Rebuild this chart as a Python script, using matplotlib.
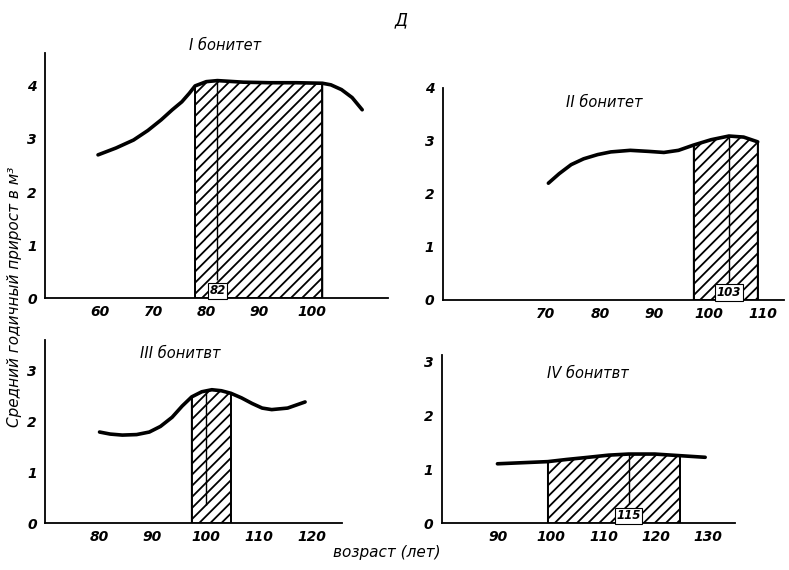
import matplotlib
matplotlib.use("Agg")
import matplotlib.pyplot as plt
import numpy as np

plt.rcParams['font.family'] = 'DejaVu Sans'
plt.rcParams['hatch.linewidth'] = 1.3

# I бонитет
age_1 = [59.6, 63.0, 66.3, 69.0, 71.5, 73.6, 75.4, 76.8, 77.9, 80.0, 82.1,
         87.0, 92.0, 97.0, 101.9, 103.5, 105.5, 107.5, 109.4]
val_1 = [2.70, 2.83, 2.98, 3.16, 3.36, 3.55, 3.70, 3.86, 4.00, 4.08, 4.10,
         4.07, 4.06, 4.06, 4.05, 4.02, 3.93, 3.78, 3.55]
zone_1 = (77.9, 101.9)
mark_1 = 82.1
mark_label_1 = "82"

# II бонитет
age_2 = [70.5, 72.5, 74.7, 77.0, 79.6, 82.0, 85.6, 89.0, 91.8, 94.5, 97.3,
         100.5, 103.8, 106.5, 109.1]
val_2 = [2.20, 2.38, 2.55, 2.66, 2.74, 2.79, 2.82, 2.80, 2.78, 2.82, 2.92,
         3.02, 3.09, 3.07, 2.98]
zone_2 = (97.3, 109.1)
mark_2 = 103.8
mark_label_2 = "103"

# III бонитет
age_3 = [80.0, 82.0, 84.3, 87.0, 89.4, 91.5, 93.7, 95.6, 97.4, 99.3, 101.2,
         103.0, 104.8, 106.8, 108.8, 110.7, 112.5, 115.5, 118.8]
val_3 = [1.79, 1.75, 1.73, 1.74, 1.79, 1.90, 2.08, 2.30, 2.48, 2.58, 2.62,
         2.60, 2.55, 2.46, 2.35, 2.26, 2.23, 2.26, 2.38]
zone_3 = (97.4, 104.8)
mark_3 = 100.1
mark_label_3 = ""

# IV бонитет
age_4 = [89.8, 99.4, 103.0, 107.1, 111.0, 114.8, 119.8, 124.6, 129.4]
val_4 = [1.10, 1.14, 1.18, 1.22, 1.26, 1.28, 1.28, 1.25, 1.22]
zone_4 = (99.4, 124.6)
mark_4 = 114.8
mark_label_4 = "115"

titles = ["I бонитет", "II бонитет", "III бонитвт", "IV бонитвт"]

fig = plt.figure(figsize=(7.89, 5.70), dpi=100)

panels = [
    # rect, xlim, ylim, xticks, yticks, title pos (axes coords)
    ([0.057, 0.477, 0.435, 0.430], (49.6, 114.3), (0, 4.62), [60, 70, 80, 90, 100], [0, 1, 2, 3, 4], (0.42, 1.03)),
    ([0.561, 0.474, 0.433, 0.372], (51.0, 114.0), (0, 3.95), [70, 80, 90, 100, 110], [0, 1, 2, 3, 4], (0.36, 0.93)),
    ([0.057, 0.082, 0.376, 0.321], (69.7, 125.7), (0, 3.59), [80, 90, 100, 110, 120], [0, 1, 2, 3], (0.32, 0.93)),
    ([0.560, 0.082, 0.371, 0.295], (79.2, 135.0), (0, 3.11), [90, 100, 110, 120, 130], [0, 1, 2, 3], (0.36, 0.89)),
]
data = [
    (age_1, val_1, zone_1, mark_1, mark_label_1),
    (age_2, val_2, zone_2, mark_2, mark_label_2),
    (age_3, val_3, zone_3, mark_3, mark_label_3),
    (age_4, val_4, zone_4, mark_4, mark_label_4),
]

for (rect, xlim, ylim, xt, yt, tpos), (ages, vals, zone, mark, mlabel), title in zip(panels, data, titles):
    ax = fig.add_axes(rect)
    ages = np.array(ages)
    vals = np.array(vals)
    inside = (ages >= zone[0] - 1e-6) & (ages <= zone[1] + 1e-6)
    ax.fill_between(ages, 0, vals, where=inside, facecolor='none',
                    edgecolor='black', hatch='///', linewidth=1.2)
    ax.vlines([zone[0], zone[1]], 0, [vals[inside][0], vals[inside][-1]],
              color='black', lw=1.3)
    top = np.interp(mark, ages, vals)
    ax.vlines(mark, 0.35, top, color='black', lw=1.0)
    ax.plot(ages, vals, color='black', lw=2.6, solid_capstyle='round',
            solid_joinstyle='round')
    if mlabel:
        ax.text(mark, 0.14, mlabel, ha='center', va='center', fontsize=8.5,
                fontweight='bold', style='italic',
                bbox=dict(facecolor='white', edgecolor='black', lw=0.8, pad=1.2))

    ax.set_xlim(*xlim)
    ax.set_ylim(*ylim)
    ax.set_xticks(xt)
    ax.set_yticks(yt)
    ax.tick_params(length=0, labelsize=10, pad=6)
    ax.tick_params(axis='x', pad=5)
    for lab in ax.get_xticklabels() + ax.get_yticklabels():
        lab.set_fontstyle('italic')
        lab.set_fontweight('bold')
    for s in ['top', 'right']:
        ax.spines[s].set_visible(False)
    ax.spines['left'].set_linewidth(1.3)
    ax.spines['bottom'].set_linewidth(1.3)
    ax.text(tpos[0], tpos[1], title, transform=ax.transAxes, fontsize=10.5,
            style='italic', ha='left', va='center')

fig.text(0.508, 0.965, "Д", fontsize=12, style='italic', ha='center', va='center')
fig.text(0.019, 0.48, "Средний годичный прирост в м³", rotation=90, fontsize=11,
         style='italic', ha='center', va='center')
fig.text(0.49, 0.030, "возраст (лет)", fontsize=11, style='italic',
         ha='center', va='center')

fig.savefig("out.png", dpi=100)
